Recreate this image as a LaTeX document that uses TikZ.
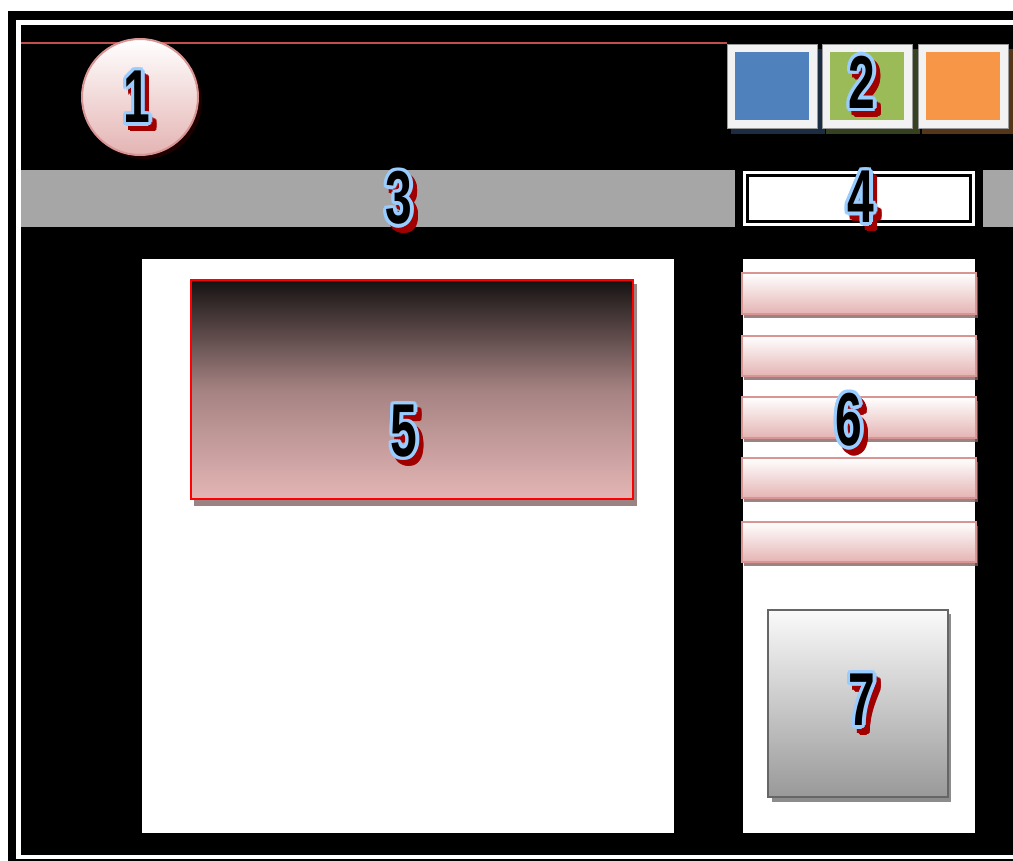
\documentclass[tikz,border=0pt]{standalone}
\usepackage{fontspec}
\setmainfont{Liberation Sans}
\usetikzlibrary{calc}
\definecolor{frameline}{RGB}{192,80,77}
\definecolor{tileblue}{RGB}{79,129,189}
\definecolor{tilegreen}{RGB}{155,187,89}
\definecolor{tileorange}{RGB}{247,150,70}
\definecolor{tileframe}{RGB}{242,242,242}
\definecolor{barpink}{RGB}{228,180,179}
\definecolor{barrim}{RGB}{217,149,148}
\definecolor{barshade}{RGB}{130,100,100}
\definecolor{panelgray}{RGB}{166,166,166}
\definecolor{numblue}{RGB}{153,204,255}
\definecolor{numred}{RGB}{160,0,0}

% digit with red drop shadow and blue rim
\newcommand{\callout}[3]{%
  \foreach \a in {0,30,...,330}
    \node[numtxt, text=numred] at ($(#2)+(5,6)+(\a:3.2pt)$) {\scalebox{0.64}[1]{#3}};
  \foreach \a in {0,30,...,330}
    \node[numtxt, text=numblue] at ($(#2)+(\a:3.4pt)$) {\scalebox{0.64}[1]{#3}};
  \node[numtxt] (#1) at (#2) {\scalebox{0.64}[1]{#3}};
}

\begin{document}
\begin{tikzpicture}[x=1pt, y=-1pt,
  numtxt/.style={inner sep=0pt, text=black, font=\fontsize{75}{75}\selectfont\bfseries},
  tile/.style={fill=tileframe, draw=black!40, line width=0.8pt},
  pinkbar/.style={draw=barrim, line width=2pt, top color=white, bottom color=barpink},
  barshadow/.style={fill=barshade, opacity=0.8}]
  \useasboundingbox (0,0) rectangle (1013,861);
  \fill[white] (0,0) rectangle (1013,861);
  \fill[black] (8,11) rectangle (1020,870);
  \draw[white, line width=4.5pt] (18.5,22.5) rectangle (1030,857);

  % header
  \draw[frameline, line width=2.5pt] (21,43) -- (727,43);
  \fill[black!80!red!60!black] (144,101) circle (58);
  \draw[barrim, line width=2pt, top color=white, bottom color=barpink] (140,97) circle (58);
  \foreach \x/\c in {727/tileblue, 822/tilegreen, 918/tileorange} {
    \fill[\c!35!black] (\x+4,49) rectangle (\x+98,134);
    \draw[tile] (\x,44) rectangle (\x+90,128);
    \fill[\c] (\x+8,52) rectangle (\x+82,120);
  }

  % toolbar
  \fill[panelgray] (21,170) rectangle (735,227);
  \fill[white] (743,171) rectangle (975,226);
  \draw[black, line width=2.5pt] (747.5,175.5) rectangle (970.5,221.5);
  \fill[panelgray] (983,170) rectangle (1013,227);

  % main panels
  \fill[white] (142,259) rectangle (674,833);
  \fill[white] (743,259) rectangle (975,833);

  \fill[barshadow] (194,284) rectangle (637,506);
  \draw[red, line width=2pt, top color={rgb,255:red,22;green,18;blue,18}, bottom color={rgb,255:red,228;green,182;blue,181}, middle color={rgb,255:red,165;green,130;blue,130}] (191,280) rectangle (633,499);

  \foreach \t/\b in {273/314, 336/376, 397/438, 458/498, 522/562} {
    \fill[barshadow] (744,\t+4) rectangle (978,\b+4);
    \draw[pinkbar] (742,\t) rectangle (976,\b);
  }

  \fill[black!45] (772,614) rectangle (951,802);
  \draw[draw=black!60, line width=2pt, top color=black!2, bottom color=black!40] (768,610) rectangle (948,797);

  % numbers
  \callout{n1}{137,97}{1}
  \callout{n2}{862,82}{2}
  \callout{n3}{399,198}{3}
  \callout{n4}{861,197}{4}
  \callout{n5}{404,431}{5}
  \callout{n6}{849,420}{6}
  \callout{n7}{862,700}{7}
\end{tikzpicture}
\end{document}
